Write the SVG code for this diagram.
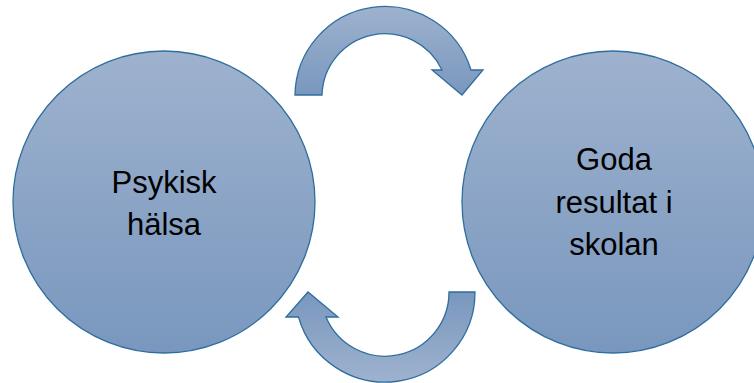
<svg xmlns="http://www.w3.org/2000/svg" width="754" height="383" viewBox="0 0 754 383">
<defs>
<linearGradient id="gDown" x1="0" y1="0" x2="0" y2="1">
<stop offset="0" stop-color="#9EB2CE"/>
<stop offset="1" stop-color="#7997BE"/>
</linearGradient>
<linearGradient id="gUp" x1="0" y1="1" x2="0" y2="0">
<stop offset="0" stop-color="#9EB2CE"/>
<stop offset="1" stop-color="#7997BE"/>
</linearGradient>
<style>
.shape{stroke:#2E6E9E;stroke-width:1.3;}
.lbl{font-family:"Liberation Sans","Open Sans",Arial,sans-serif;font-size:31px;fill:#000;text-anchor:middle;}
</style>
</defs>
<rect width="754" height="383" fill="#fff"/>
<g id="node-psykisk">
<circle class="shape" cx="164" cy="202" r="151" fill="url(#gDown)"/>
<text class="lbl" x="164" y="193">Psykisk</text>
<text class="lbl" x="164" y="235">hälsa</text>
</g>
<g id="node-goda">
<circle class="shape" cx="613" cy="202" r="151" fill="url(#gDown)"/>
<text class="lbl" x="614" y="170">Goda</text>
<text class="lbl" x="614" y="213">resultat i</text>
<text class="lbl" x="614" y="255">skolan</text>
</g>
<g id="connectors">
<path id="arrow-top" class="shape" fill="url(#gDown)" d="M295,95 A90,90 0 0 1 471,70 L483,70 L462,95 L432,70 L442,70 A63,63 0 0 0 322,95 Z"/>
<path id="arrow-bottom" class="shape" fill="url(#gUp)" d="M475,292 A90,90 0 0 1 298.5,317 L286,317 L308,292 L338,317 L326,317 A64,64 0 0 0 449,292 Z"/>
</g>
</svg>
